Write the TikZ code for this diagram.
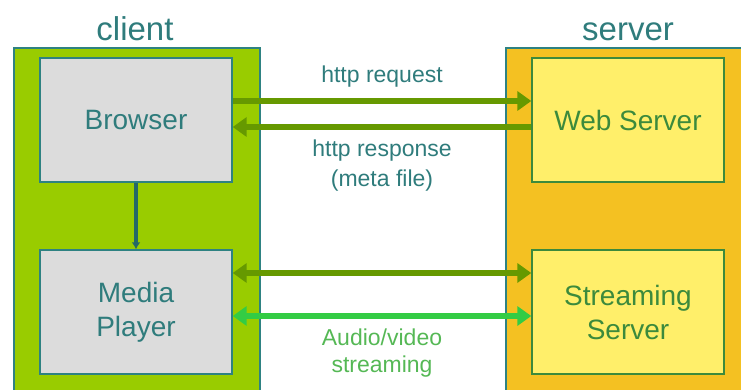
\documentclass[tikz,border=0pt]{standalone}
\usepackage{fontspec}
\setmainfont{Liberation Sans}
\usetikzlibrary{arrows.meta,positioning}

\definecolor{clientgreen}{HTML}{99CC00}
\definecolor{serverorange}{HTML}{F4C122}
\definecolor{boxgray}{HTML}{DCDCDC}
\definecolor{boxyellow}{HTML}{FFEF6A}
\definecolor{edgeteal}{HTML}{2E8282}
\definecolor{textteal}{HTML}{2F7C7C}
\definecolor{servergreen}{HTML}{3C8A3C}
\definecolor{arrowolive}{HTML}{669900}
\definecolor{streamgreen}{HTML}{33CC44}
\definecolor{streamtext}{HTML}{55B855}

\begin{document}
\begin{tikzpicture}[x=1pt, y=-1pt]
	\tikzset{side/.style={draw=edgeteal, line width=1.2pt, minimum height=350pt},
	part/.style={line width=1.4pt, minimum width=192pt, minimum height=124pt, align=center, font=\fontsize{28}{34}\selectfont},
	cpart/.style={part, draw=edgeteal, fill=boxgray, text=textteal},
	spart/.style={part, draw=servergreen, fill=boxyellow, text=servergreen},
	title/.style={font=\fontsize{33}{36}\selectfont, text=textteal},
	lbl/.style={font=\fontsize{23}{30}\selectfont, text=textteal, align=center},
	f/.style={line width=6.5pt, -{Triangle[length=14pt, width=19pt]}},
	ff/.style={line width=6.5pt, {Triangle[length=14pt, width=19pt]}-{Triangle[length=14pt, width=19pt]}}};

	\useasboundingbox (0,0) rectangle (741,390);
	\clip (0,0) rectangle (741,390);

	\node[side, fill=clientgreen, minimum width=246pt] (client) at (137,223) {};
	\node[side, fill=serverorange, minimum width=254pt] (server) at (633,223) {};
	\node[title, above=3pt of client, xshift=-2pt] (ct) {client};
	\node[title, above=3pt of server, xshift=-5pt] (st) {server};

	\node[cpart] (b) at (136,120) {Browser};
	\node[cpart] (m) at (136,312) {Media\\Player};
	\node[spart] (w) at (628,120) {Web Server};
	\node[spart] (s) at (628,312) {Streaming\\Server};

	\draw[line width=3.5pt, edgeteal!80!black, -{Latex[length=7pt, width=9pt]}] (b) -- (m);

	\draw[f, arrowolive] ([yshift=19pt]b.east) -- node[lbl, above=7pt] {http request} ([yshift=19pt]w.west);
	\draw[f, arrowolive] ([yshift=-7pt]w.west) -- node[lbl, below=6pt] {http response\\(meta file)} ([yshift=-7pt]b.east);
	\draw[ff, arrowolive] ([yshift=39pt]m.east) -- ([yshift=39pt]s.west);
	\draw[ff, streamgreen] ([yshift=-4pt]m.east) -- node[lbl, below=6pt, text=streamtext, font=\fontsize{23}{27}\selectfont] {Audio/video\\streaming} ([yshift=-4pt]s.west);
\end{tikzpicture}
\end{document}
